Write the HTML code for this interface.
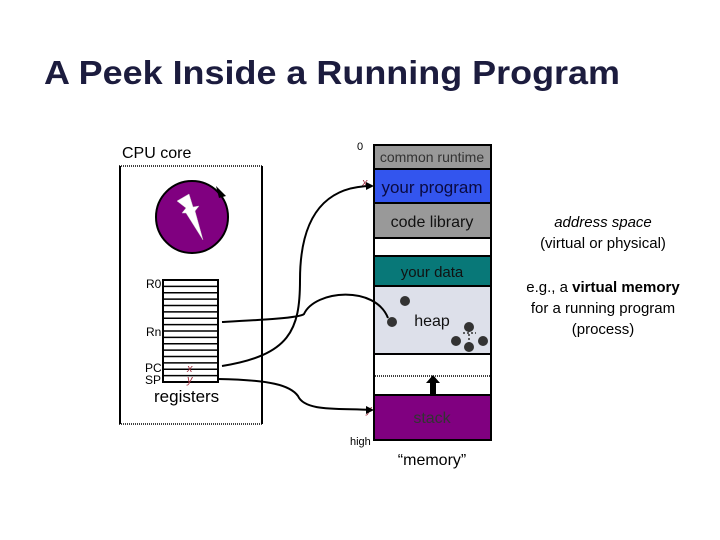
<!DOCTYPE html>
<html><head><meta charset="utf-8"><style>html,body{margin:0;padding:0;background:#fff}svg{display:block}text{font-family:"Liberation Sans",sans-serif}</style></head><body>
<svg width="720" height="540" viewBox="0 0 720 540">
<text x="44" y="84" font-size="33" font-weight="bold" fill="#1c1c3e" textLength="576" lengthAdjust="spacingAndGlyphs">A Peek Inside a Running Program</text>
<text x="122" y="158" font-size="16">CPU core</text>
<!-- CPU box -->
<line x1="119" y1="166" x2="262" y2="166" stroke="#000" stroke-width="1.5" stroke-dasharray="1,1"/>
<line x1="119" y1="424" x2="262" y2="424" stroke="#000" stroke-width="1.5" stroke-dasharray="1,1"/>
<line x1="120" y1="166" x2="120" y2="424" stroke="#000" stroke-width="2"/>
<line x1="262" y1="166" x2="262" y2="424" stroke="#000" stroke-width="2"/>
<circle cx="192" cy="217" r="36" fill="#800080" stroke="#000" stroke-width="2"/>
<path d="M216 186 L226 196 L219 198 Z" fill="#000"/>
<path d="M177 201 L189 194 L193 207 L199 206 L195 211 L203 240 L186 213 L182 213 L186 208 Z" fill="#fff" stroke="#ccc" stroke-width="0.5"/>
<!-- registers -->
<rect x="163" y="280" width="55" height="102" fill="#fff" stroke="#000" stroke-width="2"/>
<g stroke="#000" stroke-width="1.5">
<line x1="163" y1="286.4" x2="218" y2="286.4"/><line x1="163" y1="292.8" x2="218" y2="292.8"/><line x1="163" y1="299.1" x2="218" y2="299.1"/><line x1="163" y1="305.5" x2="218" y2="305.5"/><line x1="163" y1="311.9" x2="218" y2="311.9"/><line x1="163" y1="318.3" x2="218" y2="318.3"/><line x1="163" y1="324.6" x2="218" y2="324.6"/><line x1="163" y1="331" x2="218" y2="331"/><line x1="163" y1="337.4" x2="218" y2="337.4"/><line x1="163" y1="343.8" x2="218" y2="343.8"/><line x1="163" y1="350.1" x2="218" y2="350.1"/><line x1="163" y1="356.5" x2="218" y2="356.5"/><line x1="163" y1="362.9" x2="218" y2="362.9"/><line x1="163" y1="369.3" x2="218" y2="369.3"/><line x1="163" y1="375.6" x2="218" y2="375.6"/>
</g>
<g font-size="12"><text x="146" y="288">R0</text><text x="146" y="336">Rn</text><text x="145" y="372">PC</text><text x="145" y="384">SP</text></g>
<text x="187" y="372" font-size="11" font-style="italic" fill="#a03040">x</text>
<text x="187" y="383" font-size="11" font-style="italic" fill="#a03040">y</text>
<text x="154" y="402" font-size="17">registers</text>
<!-- memory -->
<g stroke="#000" stroke-width="2">
<rect x="374" y="145" width="117" height="24" fill="#999"/>
<rect x="374" y="169" width="117" height="34" fill="#3355ee"/>
<rect x="374" y="203" width="117" height="35" fill="#999"/>
<rect x="374" y="238" width="117" height="18" fill="#fff"/>
<rect x="374" y="256" width="117" height="30" fill="#087878"/>
<rect x="374" y="286" width="117" height="68" fill="#dde0ea"/>
<rect x="374" y="354" width="117" height="41" fill="#fff"/>
<rect x="374" y="395" width="117" height="45" fill="#800080"/>
</g>
<line x1="375" y1="376" x2="490" y2="376" stroke="#000" stroke-width="1.5" stroke-dasharray="1,1"/>
<rect x="430" y="382" width="6" height="13" fill="#000"/><path d="M426 383 L433 375 L440 383 Z" fill="#000"/>
<g font-size="14" text-anchor="middle">
<text x="432" y="162" fill="#333">common runtime</text>
<text x="432" y="193" font-size="17" fill="#0a0a40">your program</text>
<text x="432" y="227" font-size="16" fill="#111">code library</text>
<text x="432" y="277" font-size="15" fill="#111">your data</text>
<text x="432" y="326" font-size="16" fill="#111">heap</text>
<text x="432" y="423" font-size="16" fill="#333">stack</text>
<text x="432" y="465" font-size="16">“memory”</text>
</g>
<text x="357" y="150" font-size="11">0</text>
<text x="350" y="445" font-size="11">high</text>
<text x="362" y="186" font-size="11" font-style="italic" fill="#a03040">x</text>
<text x="366" y="413" font-size="11" font-style="italic" fill="#a03040">y</text>
<!-- heap dots -->
<g fill="#333"><circle cx="405" cy="301" r="5"/><circle cx="392" cy="322" r="5"/><circle cx="469" cy="327" r="5"/><circle cx="456" cy="341" r="5"/><circle cx="469" cy="347" r="5"/><circle cx="483" cy="341" r="5"/></g>
<path d="M463 333 L476 333 M469 330 L469 344" stroke="#333" stroke-width="1.5" stroke-dasharray="2,2"/>
<!-- connectors -->
<g fill="none" stroke="#000" stroke-width="2">
<path d="M222 366 C290 355 300 330 300 280 C300 200 340 186 372 186"/>
<path d="M222 322 C260 320 300 318 304 314 C315 290 375 285 388 318"/>
<path d="M218 379 C270 380 290 385 298 396 C305 412 340 408 372 410"/>
</g>
<path d="M366 182 L374 186 L366 190 Z" fill="#000"/>
<path d="M366 406 L374 410 L366 414 Z" fill="#000"/>
<!-- right text -->
<g text-anchor="middle" font-size="15">
<text x="603" y="227" font-style="italic">address space</text>
<text x="603" y="248">(virtual or physical)</text>
<text x="603" y="292">e.g., a <tspan font-weight="bold">virtual memory</tspan></text>
<text x="603" y="313">for a running program</text>
<text x="603" y="334">(process)</text>
</g>
</svg>
</body></html>
